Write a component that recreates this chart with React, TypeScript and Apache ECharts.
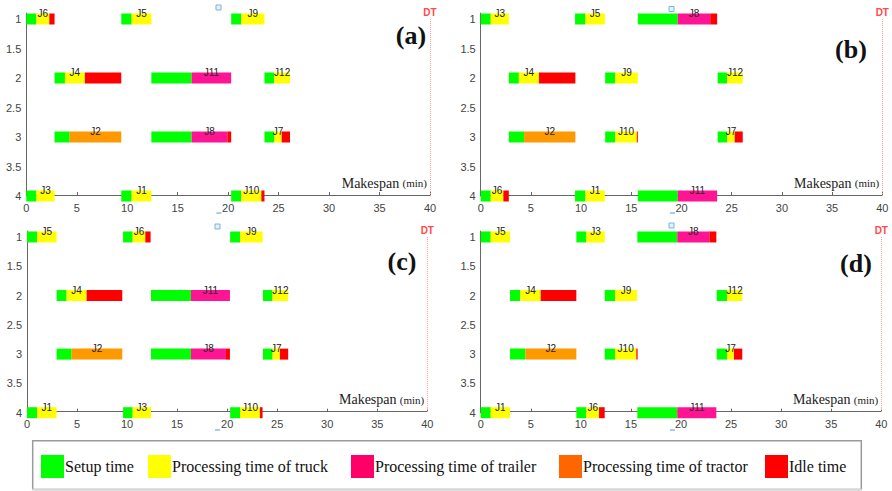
import React, { useEffect, useRef } from 'react';
import * as echarts from 'echarts';

// ---------- data ----------
// kinds after the setup segment: T = truck, R = trailer, O = tractor, I = idle
const KIND_ORDER = ['S', 'T', 'R', 'O', 'I'];
const KIND_COLORS = ['#00ff00', '#ffff00', '#ff1493', '#ff9900', '#ff0000'];

const panelNames = ['(a)', '(b)', '(c)', '(d)'];

const jobsA = ['J6', 'J5', 'J9', 'J4', 'J11', 'J12', 'J2', 'J8', 'J7', 'J3', 'J1', 'J10'];
const rowsA = [1, 1, 1, 2, 2, 2, 3, 3, 3, 4, 4, 4];
const boundsA = [
  [0, 1, 2.28, 2.8], [9.41, 10.44, 12.39], [20.3, 21.3, 23.6],
  [2.8, 3.83, 5.8, 9.41], [12.39, 16.38, 20.3], [23.6, 24.57, 26.13],
  [2.8, 4.3, 9.41], [12.39, 16.38, 19.92, 20.3], [23.6, 24.57, 25.3, 26.13],
  [0, 1, 2.8], [9.41, 10.44, 12.39], [20.3, 21.3, 23.29, 23.6],
];
const kindsA = ['TI', 'T', 'T', 'TI', 'R', 'T', 'O', 'RI', 'TI', 'T', 'T', 'TI'];

const jobsB = ['J3', 'J5', 'J8', 'J4', 'J9', 'J12', 'J2', 'J10', 'J7', 'J6', 'J1', 'J11'];
const rowsB = [1, 1, 1, 2, 2, 2, 3, 3, 3, 4, 4, 4];
const boundsB = [
  [0, 1, 2.8], [9.4, 10.43, 12.36], [15.65, 19.63, 22.86, 23.55],
  [2.8, 3.8, 5.8, 9.43], [12.4, 13.4, 15.65], [23.6, 24.55, 26.1],
  [2.8, 4.32, 9.43], [12.4, 13.4, 15.55, 15.65], [23.6, 24.55, 25.3, 26.1],
  [0, 1, 2.26, 2.8], [9.4, 10.43, 12.36], [15.65, 19.63, 23.55],
];
const kindsB = ['T', 'T', 'RI', 'TI', 'T', 'T', 'O', 'TI', 'TI', 'TI', 'T', 'R'];

const jobsC = ['J5', 'J6', 'J9', 'J4', 'J11', 'J12', 'J2', 'J8', 'J7', 'J1', 'J3', 'J10'];
const rowsC = [1, 1, 1, 2, 2, 2, 3, 3, 3, 4, 4, 4];
const boundsC = [
  [0, 1, 2.96], [9.6, 10.56, 11.82, 12.35], [20.3, 21.3, 23.54],
  [2.96, 3.96, 5.96, 9.52], [12.39, 16.38, 20.28], [23.58, 24.54, 26.1],
  [2.96, 4.46, 9.52], [12.39, 16.38, 19.88, 20.28], [23.58, 24.54, 25.27, 26.1],
  [0, 1, 2.96], [9.6, 10.56, 12.39], [20.3, 21.3, 23.27, 23.54],
];
const kindsC = ['T', 'TI', 'T', 'TI', 'R', 'T', 'O', 'RI', 'TI', 'T', 'T', 'TI'];

const jobsD = ['J5', 'J3', 'J8', 'J4', 'J9', 'J12', 'J2', 'J10', 'J7', 'J1', 'J6', 'J11'];
const rowsD = [1, 1, 1, 2, 2, 2, 3, 3, 3, 4, 4, 4];
const boundsD = [
  [0, 1, 2.93], [9.55, 10.55, 12.38], [15.64, 19.63, 22.83, 23.53],
  [2.93, 3.96, 5.99, 9.55], [12.38, 13.41, 15.6], [23.56, 24.59, 26.12],
  [2.93, 4.46, 9.55], [12.38, 13.41, 15.54, 15.67], [23.56, 24.59, 25.29, 26.12],
  [0, 1, 2.93], [9.55, 10.55, 11.81, 12.38], [15.64, 19.63, 23.53],
];
const kindsD = ['T', 'T', 'RI', 'TI', 'T', 'T', 'O', 'TI', 'TI', 'T', 'TI', 'R'];

const yTickValues = [1, 1.5, 2, 2.5, 3, 3.5, 4];
const dueTime = 40;

const legendLabels = ['Setup time', 'Processing time of truck', 'Processing time of trailer', 'Processing time of tractor', 'Idle time'];
const legendColors = ['#00ff00', '#ffff00', '#ff0066', '#ff6600', '#ff0000'];

// ---------- layout ----------
const grids = [
  { left: 26.3, right: 462, top: 13.1, bottom: 295 },
  { left: 480.7, right: 9.7, top: 13.1, bottom: 295 },
  { left: 27, right: 464.7, top: 231.1, bottom: 78.3 },
  { left: 480.7, right: 10.7, top: 231.1, bottom: 78.3 },
];
const panelLabelPos = [[411, 35], [851, 49], [402, 261.5], [856, 263]];
const markerSquares = [[216, 5], [669, 6.5], [215, 224], [669, 223]];
const markerDashes = [[216.5, 213], [670, 213], [215, 430], [670, 430]];
const legendSquareX = [41, 148, 351, 559, 765];

const BAR_H = 11;

function buildSegments(rows: number[], bounds: number[][], kinds: string[]) {
  const out: number[][] = [];
  bounds.forEach((b, j) => {
    const ks = 'S' + kinds[j];
    for (let i = 0; i < b.length - 1; i++) {
      out.push([b[i], b[i + 1], rows[j], KIND_ORDER.indexOf(ks[i])]);
    }
  });
  return out;
}

function buildLabels(rows: number[], bounds: number[][]) {
  return bounds.map((b, j) => [(b[1] + b[2]) / 2, rows[j]]);
}

const panels = [
  { jobs: jobsA, rows: rowsA, bounds: boundsA, kinds: kindsA },
  { jobs: jobsB, rows: rowsB, bounds: boundsB, kinds: kindsB },
  { jobs: jobsC, rows: rowsC, bounds: boundsC, kinds: kindsC },
  { jobs: jobsD, rows: rowsD, bounds: boundsD, kinds: kindsD },
];

function buildOption() {
  const xAxis: any[] = [];
  const yAxis: any[] = [];
  const series: any[] = [];
  const graphic: any[] = [];

  panels.forEach((p, i) => {
    xAxis.push({
      gridIndex: i,
      type: 'value',
      min: 0,
      max: 40,
      interval: 5,
      offset: -1,
      splitLine: { show: false },
      axisLine: { show: true, lineStyle: { color: '#666', width: 1 } },
      axisTick: { show: true, inside: true, length: 3, lineStyle: { color: '#666' } },
      axisLabel: { color: '#444', fontSize: 11, fontFamily: 'Liberation Sans', margin: 7 },
      name: '{m|Makespan} {s|(min)}',
      nameLocation: 'end',
      nameGap: -3,
      nameTextStyle: {
        align: 'right',
        verticalAlign: 'bottom',
        padding: [0, 0, 5, 0],
        rich: {
          m: { fontSize: 14, fontFamily: 'Liberation Serif', color: '#222' },
          s: { fontSize: 11, fontFamily: 'Liberation Serif', color: '#222' },
        },
      },
    });
    yAxis.push({
      gridIndex: i,
      type: 'value',
      min: 0.9,
      max: 4,
      inverse: true,
      splitLine: { show: false },
      axisLine: { show: true, lineStyle: { color: '#666', width: 1 } },
      axisTick: { show: false, customValues: yTickValues },
      axisLabel: {
        color: '#444', fontSize: 11, fontFamily: 'Liberation Sans', margin: 5,
        customValues: yTickValues,
      },
    });

    const segs = buildSegments(p.rows, p.bounds, p.kinds);
    series.push({
      type: 'custom',
      xAxisIndex: i,
      yAxisIndex: i,
      clip: false,
      silent: true,
      data: segs,
      encode: { x: [0, 1], y: 2 },
      renderItem: (params: any, api: any) => {
        const s = api.coord([api.value(0), api.value(2)]);
        const e = api.coord([api.value(1), api.value(2)]);
        return {
          type: 'rect',
          shape: { x: s[0], y: s[1] - BAR_H / 2, width: e[0] - s[0], height: BAR_H },
          style: { fill: KIND_COLORS[api.value(3)] },
        };
      },
    });

    const labels = buildLabels(p.rows, p.bounds);
    const names = p.jobs;
    series.push({
      type: 'custom',
      xAxisIndex: i,
      yAxisIndex: i,
      clip: false,
      silent: true,
      z: 5,
      data: labels,
      encode: { x: 0, y: 1 },
      renderItem: (params: any, api: any) => {
        const c = api.coord([api.value(0), api.value(1)]);
        return {
          type: 'text',
          x: c[0],
          y: c[1] - BAR_H / 2,
          style: {
            text: names[params.dataIndex],
            textAlign: 'center',
            textVerticalAlign: 'middle',
            fontSize: 10,
            fontFamily: 'Liberation Sans',
            fill: '#222',
          },
        };
      },
    });

    series.push({
      type: 'line',
      xAxisIndex: i,
      yAxisIndex: i,
      data: [],
      silent: true,
      markLine: {
        silent: true,
        symbol: 'none',
        animation: false,
        lineStyle: { type: 'dotted', color: '#ff9a9a', width: 1 },
        label: {
          show: true,
          position: 'start',
          formatter: 'DT',
          color: '#ff4a4a',
          fontSize: 10,
          fontWeight: 'bold',
          fontFamily: 'Liberation Sans',
          distance: 1.5,
        },
        data: [[{ coord: [dueTime, 1] }, { coord: [dueTime, 4] }]],
      },
    });

    graphic.push({
      type: 'text',
      x: panelLabelPos[i][0],
      y: panelLabelPos[i][1],
      style: {
        text: panelNames[i],
        textAlign: 'center',
        textVerticalAlign: 'middle',
        font: 'bold 26px "Liberation Serif"',
        fill: '#111',
      },
    });
    graphic.push({
      type: 'rect',
      shape: { x: markerSquares[i][0], y: markerSquares[i][1], width: 5, height: 5 },
      style: { fill: '#e4f0fa', stroke: '#7fb2de', lineWidth: 1 },
    });
    graphic.push({
      type: 'line',
      shape: { x1: markerDashes[i][0], y1: markerDashes[i][1], x2: markerDashes[i][0] + 5, y2: markerDashes[i][1] },
      style: { stroke: '#8dbbe3', lineWidth: 1.5 },
    });
  });

  // legend box
  graphic.push({
    type: 'rect',
    shape: { x: 32.7, y: 440.7, width: 828.6, height: 48.8 },
    style: { fill: '#fff', stroke: '#9a9a9a', lineWidth: 1.5 },
  });
  graphic.push({
    type: 'line',
    shape: { x1: 32, y1: 489.5, x2: 862, y2: 489.5 },
    style: { stroke: '#d4d4d4', lineWidth: 1.5 },
  });
  legendLabels.forEach((lab, k) => {
    graphic.push({
      type: 'rect',
      shape: { x: legendSquareX[k], y: 455, width: 23, height: 23 },
      style: { fill: legendColors[k] },
    });
    graphic.push({
      type: 'text',
      x: legendSquareX[k] + 24,
      y: 466.5,
      style: {
        text: lab,
        textAlign: 'left',
        textVerticalAlign: 'middle',
        font: '16px "Liberation Serif"',
        fill: '#111',
      },
    });
  });

  return {
    animation: false,
    backgroundColor: '#ffffff',
    grid: grids.map((g) => ({ ...g, containLabel: false })),
    xAxis,
    yAxis,
    series,
    graphic,
  };
}

export default function App() {
  const ref = useRef<HTMLDivElement>(null);
  useEffect(() => {
    if (!ref.current) return;
    const chart = echarts.init(ref.current, undefined, { renderer: 'svg' });
    chart.setOption(buildOption() as any);
    return () => chart.dispose();
  }, []);
  return (
    <div
      ref={ref}
      style={{ position: 'fixed', left: 0, top: 0, width: 892, height: 491, background: '#fff' }}
    />
  );
}
